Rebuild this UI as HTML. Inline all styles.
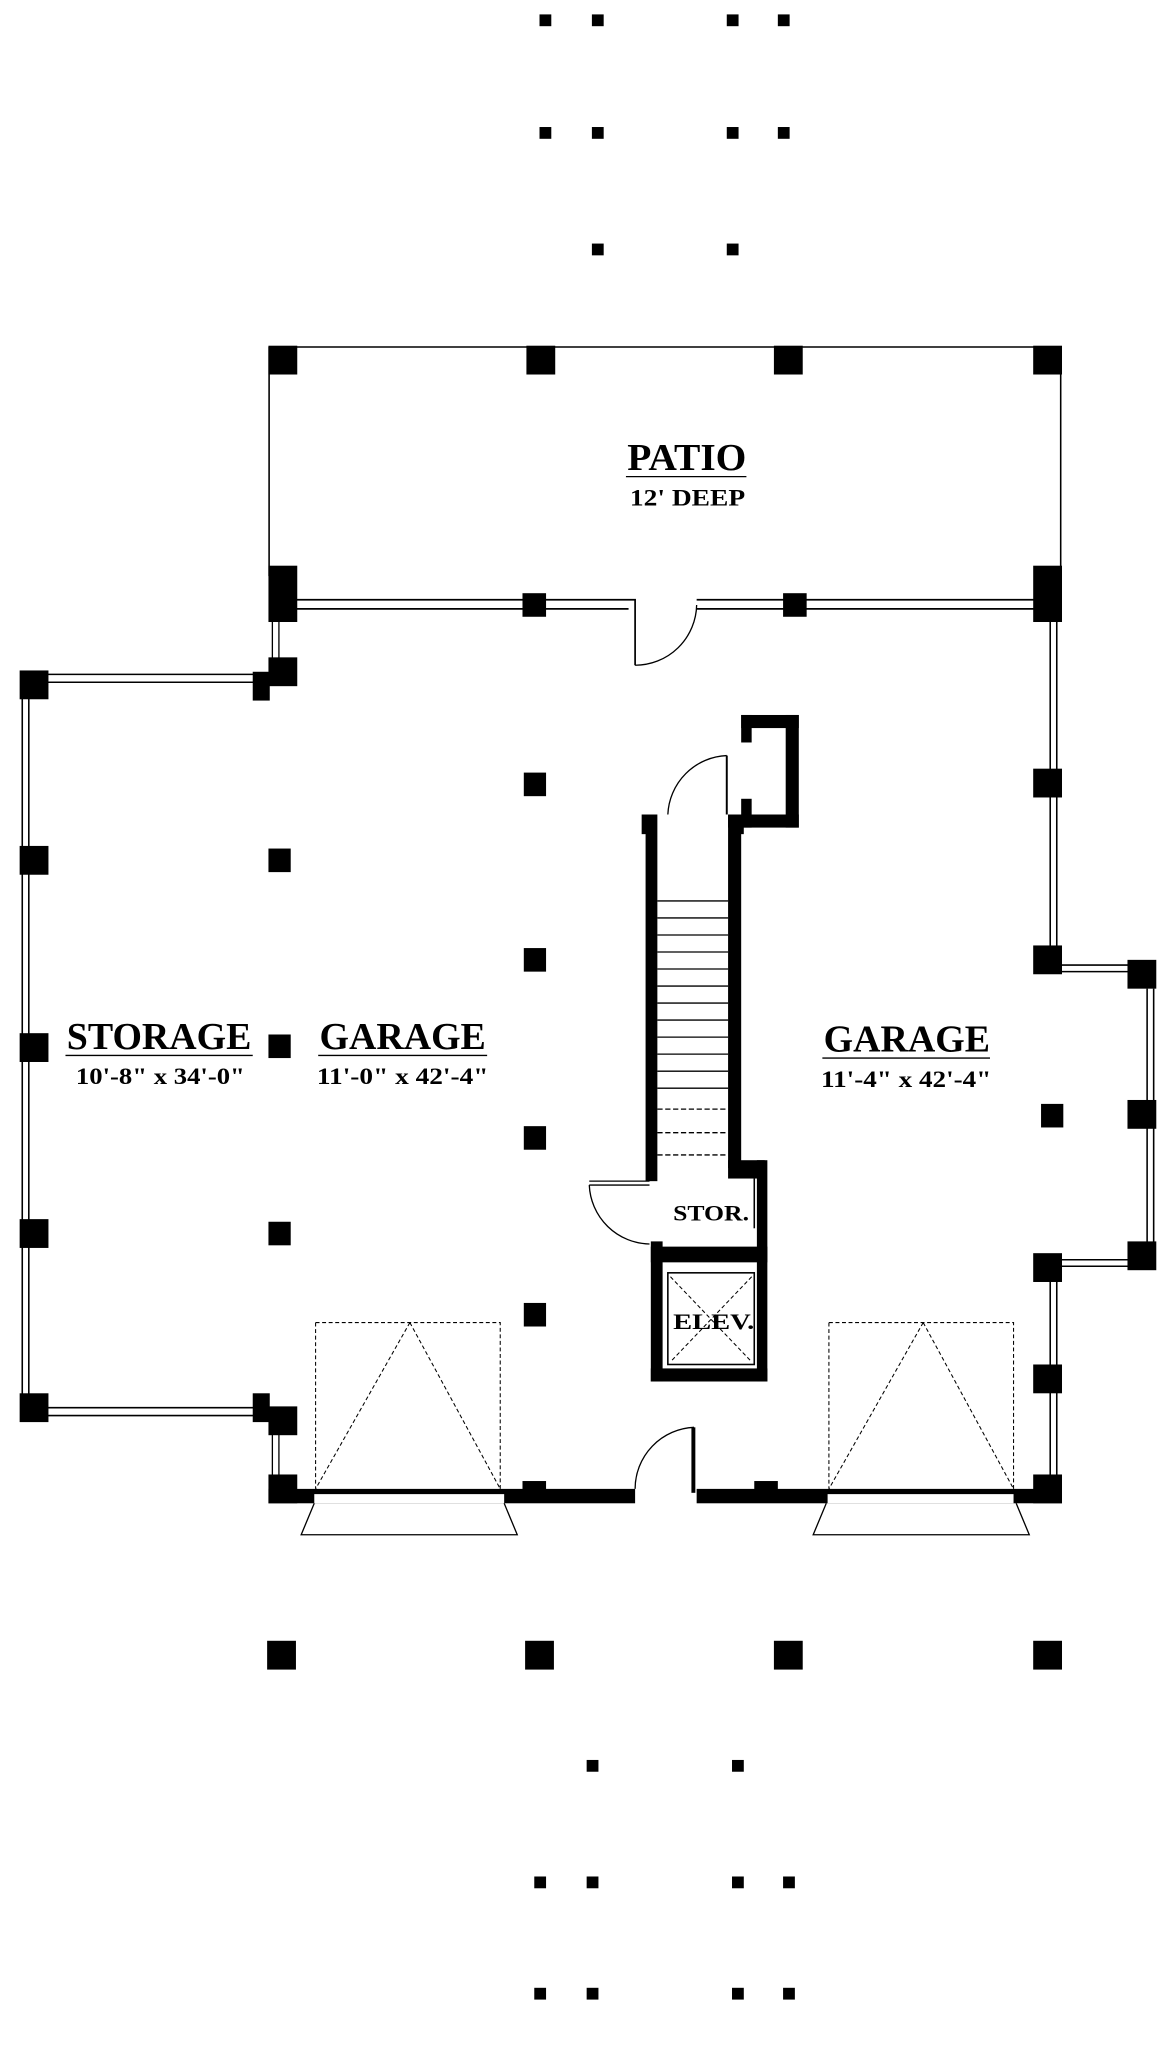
<!DOCTYPE html>
<html><head><meta charset="utf-8"><style>html,body{margin:0;padding:0;background:#fff}svg{display:block}</style></head>
<body>
<svg width="1172" height="2050" viewBox="0 0 895 1565.5" preserveAspectRatio="none" xmlns="http://www.w3.org/2000/svg" font-family="Liberation Serif, serif">
<g fill="#000">
<rect x="412" y="11" width="9" height="9"/><rect x="452" y="11" width="9" height="9"/><rect x="555" y="11" width="9" height="9"/><rect x="594" y="11" width="9" height="9"/>
<rect x="412" y="97" width="9" height="9"/><rect x="452" y="97" width="9" height="9"/><rect x="555" y="97" width="9" height="9"/><rect x="594" y="97" width="9" height="9"/>
<rect x="452" y="186" width="9" height="9"/><rect x="555" y="186" width="9" height="9"/>
<rect x="204" y="1253" width="22" height="22"/><rect x="401" y="1253" width="22" height="22"/><rect x="591" y="1253" width="22" height="22"/><rect x="789" y="1253" width="22" height="22"/>
<rect x="448" y="1344" width="9" height="9"/><rect x="559" y="1344" width="9" height="9"/>
<rect x="408" y="1433" width="9" height="9"/><rect x="448" y="1433" width="9" height="9"/><rect x="559" y="1433" width="9" height="9"/><rect x="598" y="1433" width="9" height="9"/>
<rect x="408" y="1518" width="9" height="9"/><rect x="448" y="1518" width="9" height="9"/><rect x="559" y="1518" width="9" height="9"/><rect x="598" y="1518" width="9" height="9"/>
<rect x="205" y="264" width="22" height="22"/><rect x="402" y="264" width="22" height="22"/><rect x="591" y="264" width="22" height="22"/><rect x="789" y="264" width="22" height="22"/>
<rect x="205" y="432" width="22" height="43"/><rect x="789" y="432" width="22" height="43"/>
<rect x="399" y="453" width="18" height="18"/><rect x="598" y="453" width="18" height="18"/>
<rect x="15" y="512" width="22" height="22"/><rect x="15" y="646" width="22" height="22"/><rect x="15" y="789" width="22" height="22"/><rect x="15" y="931" width="22" height="22"/><rect x="15" y="1064" width="22" height="22"/>
<rect x="193" y="513" width="13" height="22"/><rect x="205" y="502" width="22" height="22"/>
<rect x="193" y="1064" width="13" height="22"/><rect x="205" y="1074" width="22" height="22"/>
<rect x="400" y="590" width="17" height="18"/><rect x="205" y="648" width="17" height="18"/><rect x="400" y="724" width="17" height="18"/><rect x="205" y="790" width="17" height="18"/><rect x="400" y="860" width="17" height="18"/><rect x="205" y="933" width="17" height="18"/><rect x="400" y="995" width="17" height="18"/>
<rect x="789" y="587" width="22" height="22"/><rect x="789" y="722" width="22" height="22"/><rect x="861" y="733" width="22" height="22"/><rect x="861" y="840" width="22" height="22"/><rect x="795" y="843" width="17" height="18"/><rect x="861" y="948" width="22" height="22"/><rect x="789" y="957" width="22" height="22"/><rect x="789" y="1042" width="22" height="22"/><rect x="789" y="1126" width="22" height="22"/>
<rect x="205" y="1126" width="22" height="22"/>
<rect x="205" y="1137" width="280" height="11"/><rect x="532" y="1137" width="279" height="11"/>
<rect x="399" y="1131" width="18" height="8"/><rect x="576" y="1131" width="18" height="8"/>
<rect x="528" y="1090" width="3" height="50"/>
<rect x="493" y="622" width="9" height="280"/><rect x="556" y="622" width="10" height="270"/>
<rect x="566" y="546" width="44" height="10"/><rect x="600" y="546" width="10" height="86"/><rect x="556" y="622" width="54" height="10"/>
<rect x="566" y="546" width="8" height="21"/><rect x="566" y="610" width="8" height="22"/>
<rect x="490" y="622" width="8" height="15"/><rect x="560" y="622" width="8" height="15"/>
<rect x="556" y="886" width="28" height="14"/><rect x="578" y="886" width="8" height="169"/>
<rect x="497" y="948" width="9" height="107"/><rect x="497" y="952" width="89" height="12"/><rect x="497" y="1045" width="89" height="10"/>
</g>
<g fill="none" stroke="#000">
<path d="M205 265 H810 M205.5 265 V440 M810 265 V440" stroke-width="1.2"/>
<path d="M226 458 H485 V508 M226 465 H480 M532 458 H790 M532 465 H790" stroke-width="1.3"/>
<path d="M485 508 A47 47 0 0 0 532 462" stroke-width="1"/>
<path d="M208 475 V505 M213 475 V505" stroke-width="1"/>
<path d="M17 530 V1068 M22 530 V1068" stroke-width="1.2"/>
<path d="M35 515 H195 M35 521 H195 M35 1075 H195 M35 1081 H195" stroke-width="1.2"/>
<path d="M208 1095 V1128 M213 1095 V1128" stroke-width="1"/>
<path d="M802 475 V725 M807 475 V725 M811 737 H862 M811 742 H862 M876 755 V950 M881 755 V950 M811 962 H862 M811 967 H862 M802 978 V1128 M807 978 V1128" stroke-width="1.2"/>
<path d="M555 577 V622" stroke-width="1.5"/>
<path d="M555 577 A47 47 0 0 0 510 622" stroke-width="1"/>
<path d="M502 688H556M502 701H556M502 714H556M502 727H556M502 740H556M502 753H556M502 766H556M502 779H556M502 792H556M502 805H556M502 818H556M502 831H556" stroke-width="1"/>
<path d="M502 847H556M502 865H556M502 882H556" stroke-width="1" stroke-dasharray="4,2"/>
<path d="M450 902 H496 M450 905 H496" stroke-width="1"/>
<path d="M450 905 A47 47 0 0 0 496 950" stroke-width="1"/>
<path d="M576 900 V938" stroke-width="1.2"/>
<rect x="510" y="972" width="66" height="70" stroke-width="1.2"/>
<path d="M512 975 L574 1040 M574 975 L512 1040" stroke-width="0.8" stroke-dasharray="3,2"/>
<path d="M485 1137 A47 47 0 0 1 530 1090" stroke-width="1"/>
<path d="M241 1010 H382 V1137 M241 1010 V1137 M313 1010 L241 1137 M313 1010 L382 1137" stroke-width="0.8" stroke-dasharray="3,2"/>
<path d="M633 1010 H774 V1137 M633 1010 V1137 M705 1010 L633 1137 M705 1010 L774 1137" stroke-width="0.8" stroke-dasharray="3,2"/>
<path d="M240 1148 L230 1172 H395 L385 1148" stroke-width="1"/>
<path d="M631 1148 L621 1172 H786 L776 1148" stroke-width="1"/>
<path d="M50 806 H193 M243 806 H372 M628 808 H756 M478 364 H570" stroke-width="1"/>
</g>
<g fill="#fff"><rect x="240" y="1141" width="145" height="7"/><rect x="632" y="1141" width="142" height="7"/></g>
<g fill="#000" font-weight="bold">
<text x="479" y="359" font-size="29" textLength="91" lengthAdjust="spacingAndGlyphs">PATIO</text>
<text x="481" y="386" font-size="18" textLength="88" lengthAdjust="spacingAndGlyphs">12' DEEP</text>
<text x="51" y="801" font-size="29" textLength="141" lengthAdjust="spacingAndGlyphs">STORAGE</text>
<text x="58" y="828" font-size="18" textLength="129" lengthAdjust="spacingAndGlyphs">10'-8" x 34'-0"</text>
<text x="244" y="801" font-size="29" textLength="127" lengthAdjust="spacingAndGlyphs">GARAGE</text>
<text x="242" y="828" font-size="18" textLength="131" lengthAdjust="spacingAndGlyphs">11'-0" x 42'-4"</text>
<text x="629" y="803" font-size="29" textLength="127" lengthAdjust="spacingAndGlyphs">GARAGE</text>
<text x="627" y="830" font-size="18" textLength="130" lengthAdjust="spacingAndGlyphs">11'-4" x 42'-4"</text>
<text x="514" y="932" font-size="17" textLength="58" lengthAdjust="spacingAndGlyphs">STOR.</text>
<text x="514" y="1015" font-size="17" textLength="62" lengthAdjust="spacingAndGlyphs">ELEV.</text>
</g>
</svg>
</body></html>
